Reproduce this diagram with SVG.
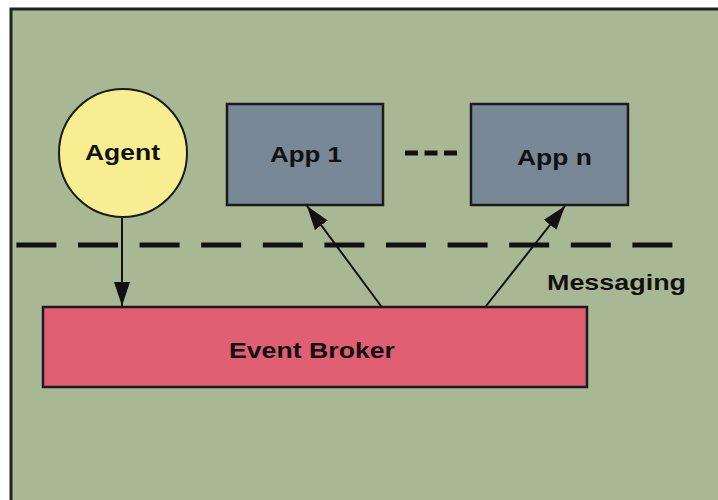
<svg xmlns="http://www.w3.org/2000/svg" width="718" height="500" viewBox="0 0 718 500">
<defs>
<style>
.lbl{font-family:"Liberation Sans",Arial,sans-serif;font-weight:bold;font-size:22px;fill:#111;}
.box{stroke:#1a1a1a;stroke-width:2.5;}
.conn{stroke:#111;stroke-width:2;fill:none;}
</style>
<marker id="arrh" viewBox="0 0 24 16" refX="24" refY="8" markerWidth="24" markerHeight="16" markerUnits="userSpaceOnUse" orient="auto">
<path d="M0,0 L24,8 L0,16 Z" fill="#111"/>
</marker>
</defs>
<rect x="0" y="0" width="718" height="500" fill="#ffffff"/>
<rect id="frame" x="11" y="9" width="720" height="500" fill="#a9b894" stroke="#222" stroke-width="3"/>
<line id="messaging-line" x1="12" y1="245" x2="673" y2="245" stroke="#111" stroke-width="5" stroke-dasharray="40 21.6" stroke-dashoffset="57.2"/>
<text id="messaging-label" class="lbl" x="547" y="290" textLength="139" lengthAdjust="spacingAndGlyphs">Messaging</text>
<g id="agent">
<circle cx="123" cy="153" r="64" fill="#f6ee90" stroke="#1a1a1a" stroke-width="2"/>
<text class="lbl" x="85" y="160" textLength="75" lengthAdjust="spacingAndGlyphs">Agent</text>
</g>
<g id="app1">
<rect class="box" x="227" y="104" width="156" height="101" fill="#788897"/>
<text class="lbl" x="270" y="162" textLength="72" lengthAdjust="spacingAndGlyphs">App 1</text>
</g>
<line id="ellipsis" x1="405" y1="153" x2="457" y2="153" stroke="#111" stroke-width="5" stroke-dasharray="13 6.5"/>
<g id="appn">
<rect class="box" x="471" y="104" width="157" height="101" fill="#788897"/>
<text class="lbl" x="517" y="165" textLength="75" lengthAdjust="spacingAndGlyphs">App n</text>
</g>
<g id="broker">
<rect class="box" x="43" y="307" width="544" height="80" fill="#e05f72"/>
<text class="lbl" x="229" y="358" textLength="166" lengthAdjust="spacingAndGlyphs">Event Broker</text>
</g>
<g id="connectors">
<line class="conn" x1="122" y1="218" x2="122" y2="306" marker-end="url(#arrh)"/>
<line class="conn" x1="381" y1="306" x2="307" y2="206" marker-end="url(#arrh)"/>
<line class="conn" x1="486" y1="306" x2="565" y2="206" marker-end="url(#arrh)"/>
</g>
</svg>
